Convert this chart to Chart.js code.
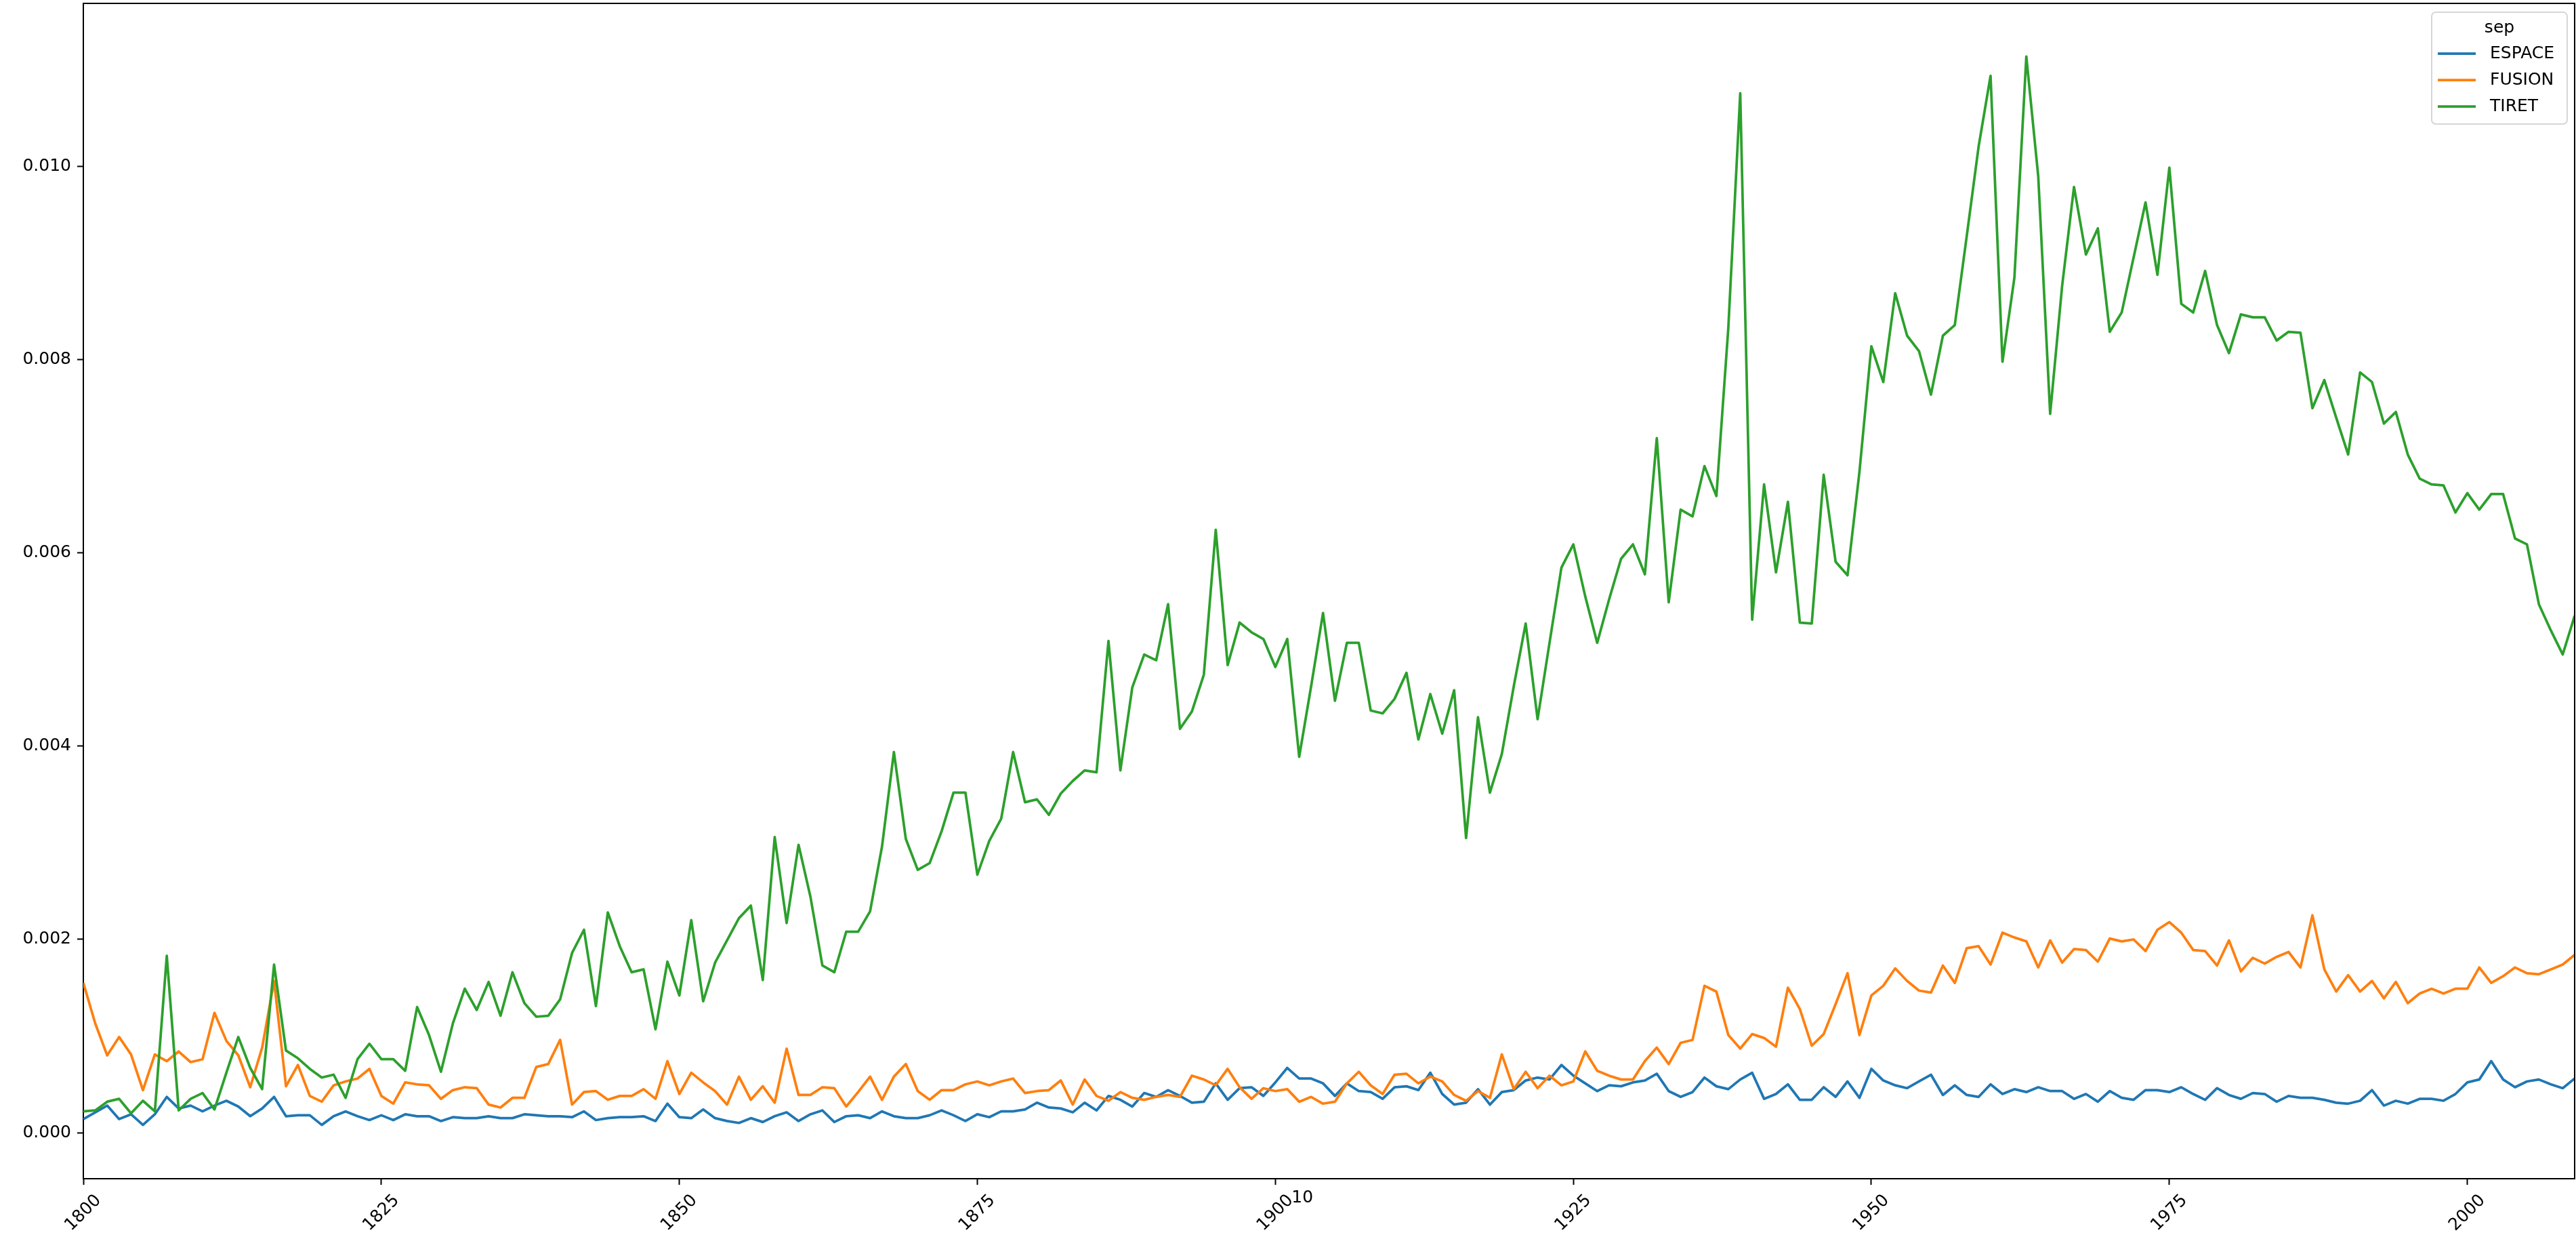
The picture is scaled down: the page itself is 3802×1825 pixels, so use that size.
<!DOCTYPE html>
<html><head><meta charset="utf-8">
<script src="https://cdn.jsdelivr.net/npm/chart.js@4/dist/chart.umd.min.js"></script>
<style>html,body{margin:0;padding:0;background:#fff;overflow:hidden}#wrap{width:3802px;height:1825px;position:relative}</style>
</head><body><div id="wrap"><canvas id="c" width="3802" height="1825"></canvas></div>
<script>
const firstYear = 1800;
const espace = [
0.00014,0.00021,0.00028,0.00014,0.00019,0.00008,0.00019,0.00037,0.00025,0.00028,
0.00022,0.00028,0.00033,0.00027,0.00017,0.00025,0.00037,0.00017,0.00018,0.00018,
0.00008,0.00017,0.00022,0.00017,0.00013,0.00018,0.00013,0.00019,0.00017,0.00017,
0.00012,0.00016,0.00015,0.00015,0.00017,0.00015,0.00015,0.00019,0.00018,0.00017,
0.00017,0.00016,0.00022,0.00013,0.00015,0.00016,0.00016,0.00017,0.00012,0.00030,
0.00016,0.00015,0.00024,0.00015,0.00012,0.00010,0.00015,0.00011,0.00017,0.00021,
0.00012,0.00019,0.00023,0.00011,0.00017,0.00018,0.00015,0.00022,0.00017,0.00015,
0.00015,0.00018,0.00023,0.00018,0.00012,0.00019,0.00016,0.00022,0.00022,0.00024,
0.00031,0.00026,0.00025,0.00021,0.00031,0.00023,0.00038,0.00034,0.00027,0.00041,
0.00037,0.00044,0.00038,0.00031,0.00032,0.00051,0.00034,0.00046,0.00047,0.00038,
0.00052,0.00067,0.00056,0.00056,0.00051,0.00038,0.00051,0.00043,0.00042,0.00035,
0.00047,0.00048,0.00044,0.00062,0.00040,0.00029,0.00031,0.00045,0.00029,0.00042,
0.00044,0.00054,0.00057,0.00055,0.00070,0.00059,0.00051,0.00043,0.00049,0.00048,
0.00052,0.00054,0.00061,0.00043,0.00037,0.00042,0.00057,0.00048,0.00045,0.00055,
0.00062,0.00035,0.00040,0.00050,0.00034,0.00034,0.00047,0.00037,0.00053,0.00036,
0.00066,0.00054,0.00049,0.00046,0.00053,0.00060,0.00039,0.00049,0.00039,0.00037,
0.00050,0.00040,0.00045,0.00042,0.00047,0.00043,0.00043,0.00035,0.00040,0.00032,
0.00043,0.00036,0.00034,0.00044,0.00044,0.00042,0.00047,0.00040,0.00034,0.00046,
0.00039,0.00035,0.00041,0.00040,0.00032,0.00038,0.00036,0.00036,0.00034,0.00031,
0.00030,0.00033,0.00044,0.00028,0.00033,0.00030,0.00035,0.00035,0.00033,0.00040,
0.00052,0.00055,0.00074,0.00055,0.00047,0.00053,0.00055,0.00050,0.00046,0.00056];
const fusion = [
0.00155,0.00113,0.00080,0.00099,0.00081,0.00044,0.00081,0.00074,0.00084,0.00073,
0.00076,0.00124,0.00095,0.00080,0.00047,0.00088,0.00157,0.00048,0.00070,0.00038,
0.00032,0.00049,0.00053,0.00056,0.00066,0.00038,0.00030,0.00052,0.00050,0.00049,
0.00035,0.00044,0.00047,0.00046,0.00029,0.00026,0.00036,0.00036,0.00068,0.00071,
0.00096,0.00029,0.00042,0.00043,0.00034,0.00038,0.00038,0.00045,0.00035,0.00074,
0.00040,0.00062,0.00052,0.00043,0.00029,0.00058,0.00034,0.00048,0.00031,0.00087,
0.00039,0.00039,0.00047,0.00046,0.00027,0.00042,0.00058,0.00034,0.00058,0.00071,
0.00043,0.00034,0.00044,0.00044,0.00050,0.00053,0.00049,0.00053,0.00056,0.00041,
0.00043,0.00044,0.00054,0.00029,0.00055,0.00038,0.00033,0.00042,0.00036,0.00034,
0.00037,0.00039,0.00037,0.00059,0.00055,0.00049,0.00066,0.00047,0.00035,0.00046,
0.00043,0.00045,0.00032,0.00037,0.00030,0.00032,0.00051,0.00063,0.00049,0.00040,
0.00060,0.00061,0.00051,0.00058,0.00053,0.00039,0.00033,0.00043,0.00036,0.00081,
0.00045,0.00063,0.00046,0.00059,0.00049,0.00053,0.00084,0.00064,0.00059,0.00055,
0.00055,0.00074,0.00088,0.00071,0.00093,0.00096,0.00152,0.00146,0.00101,0.00087,
0.00102,0.00098,0.00089,0.00150,0.00128,0.00090,0.00102,0.00133,0.00165,0.00101,
0.00142,0.00152,0.00170,0.00157,0.00147,0.00145,0.00173,0.00155,0.00191,0.00193,
0.00174,0.00207,0.00202,0.00198,0.00171,0.00199,0.00176,0.00190,0.00189,0.00177,
0.00201,0.00198,0.00200,0.00188,0.00210,0.00218,0.00207,0.00189,0.00188,0.00173,
0.00199,0.00167,0.00181,0.00175,0.00182,0.00187,0.00171,0.00225,0.00169,0.00146,
0.00163,0.00146,0.00157,0.00139,0.00156,0.00134,0.00144,0.00149,0.00144,0.00149,
0.00149,0.00171,0.00155,0.00162,0.00171,0.00165,0.00164,0.00169,0.00174,0.00184];
const tiret = [
0.00022,0.00023,0.00032,0.00035,0.00020,0.00033,0.00022,0.00183,0.00023,0.00035,
0.00041,0.00024,0.00062,0.00099,0.00067,0.00045,0.00174,0.00085,0.00077,0.00066,
0.00057,0.00060,0.00036,0.00076,0.00092,0.00076,0.00076,0.00064,0.00130,0.00101,
0.00063,0.00113,0.00149,0.00127,0.00156,0.00121,0.00166,0.00134,0.00120,0.00121,
0.00138,0.00186,0.00210,0.00131,0.00228,0.00193,0.00166,0.00169,0.00107,0.00177,
0.00142,0.00220,0.00136,0.00176,0.00199,0.00222,0.00235,0.00158,0.00306,0.00217,
0.00298,0.00244,0.00173,0.00166,0.00208,0.00208,0.00229,0.00296,0.00394,0.00304,
0.00272,0.00279,0.00312,0.00352,0.00352,0.00267,0.00302,0.00325,0.00394,0.00342,
0.00345,0.00329,0.00351,0.00364,0.00375,0.00373,0.00509,0.00375,0.00461,0.00495,
0.00489,0.00547,0.00418,0.00436,0.00474,0.00624,0.00484,0.00528,0.00518,0.00511,
0.00482,0.00511,0.00389,0.00462,0.00538,0.00447,0.00507,0.00507,0.00437,0.00434,
0.00449,0.00476,0.00407,0.00454,0.00413,0.00458,0.00305,0.00430,0.00352,0.00392,
0.00462,0.00527,0.00428,0.00507,0.00585,0.00609,0.00555,0.00507,0.00552,0.00594,
0.00609,0.00578,0.00719,0.00549,0.00645,0.00638,0.00690,0.00659,0.00833,0.01076,
0.00531,0.00671,0.00580,0.00653,0.00528,0.00527,0.00681,0.00591,0.00577,0.00684,
0.00814,0.00777,0.00869,0.00825,0.00809,0.00764,0.00825,0.00836,0.00928,0.01021,
0.01094,0.00798,0.00885,0.01114,0.00990,0.00744,0.00876,0.00979,0.00909,0.00936,
0.00829,0.00849,0.00906,0.00963,0.00888,0.00999,0.00858,0.00849,0.00892,0.00836,
0.00807,0.00847,0.00844,0.00844,0.00820,0.00829,0.00828,0.00750,0.00779,0.00740,
0.00702,0.00787,0.00777,0.00734,0.00746,0.00702,0.00677,0.00671,0.00670,0.00642,
0.00662,0.00645,0.00661,0.00661,0.00615,0.00609,0.00547,0.00520,0.00495,0.00535];
const seriesNames = ['ESPACE', 'FUSION', 'TIRET'];
const seriesColors = ['#1f77b4', '#ff7f0e', '#2ca02c'];
const xTicks = [1800, 1825, 1850, 1875, 1900, 1925, 1950, 1975, 2000];
const yTicks = [0, 0.002, 0.004, 0.006, 0.008, 0.010];
const legendTitle = 'sep';
const strayLabel = '10';

const years = espace.map((_, i) => firstYear + i);
const seriesValues = [espace, fusion, tiret];
const FONT = '25px "DejaVu Sans"';

const extras = {
  id: 'extras',
  afterDraw(chart) {
    const ctx = chart.ctx, a = chart.chartArea, xs = chart.scales.x;
    ctx.save();
    // top/right spines
    ctx.strokeStyle = '#000'; ctx.lineWidth = 2;
    ctx.beginPath(); ctx.moveTo(a.left, a.top); ctx.lineTo(a.right, a.top); ctx.lineTo(a.right, a.bottom); ctx.stroke();
    // rotated x tick labels (centered like matplotlib)
    ctx.font = FONT; ctx.fillStyle = '#000';
    ctx.textAlign = 'center'; ctx.textBaseline = 'middle';
    xTicks.forEach(v => {
      const label = String(v);
      const w = ctx.measureText(label).width, h = 29;
      const side = (w + h) * Math.SQRT1_2;
      const cx = xs.getPixelForValue(v), cy = a.bottom + 18 + side / 2;
      ctx.save(); ctx.translate(cx, cy); ctx.rotate(-Math.PI / 4); ctx.fillText(label, 0, 0); ctx.restore();
    });
    // stray "10" text near 1900
    ctx.textAlign = 'left'; ctx.textBaseline = 'alphabetic';
    ctx.fillText(strayLabel, xs.getPixelForValue(1900) + 24, a.bottom + 35);
    // legend
    const bx = a.right - 11 - 200, by = a.top + 13, bw = 200, bh = 165;
    ctx.beginPath();
    ctx.roundRect(bx, by, bw, bh, 6);
    ctx.fillStyle = 'rgba(255,255,255,0.8)'; ctx.fill();
    ctx.strokeStyle = 'rgba(204,204,204,0.8)'; ctx.lineWidth = 2; ctx.stroke();
    ctx.fillStyle = '#000'; ctx.textAlign = 'center'; ctx.textBaseline = 'alphabetic';
    ctx.fillText(legendTitle, bx + bw / 2, by + 30);
    ctx.textAlign = 'left'; ctx.textBaseline = 'middle';
    seriesNames.forEach((n, i) => {
      const yy = by + 61 + i * 39;
      ctx.strokeStyle = seriesColors[i]; ctx.lineWidth = 3.75; ctx.lineCap = 'butt';
      ctx.beginPath(); ctx.moveTo(bx + 9, yy); ctx.lineTo(bx + 65, yy); ctx.stroke();
      ctx.fillStyle = '#000';
      ctx.fillText(n, bx + 86, yy);
    });
    ctx.restore();
  }
};

new Chart(document.getElementById('c'), {
  type: 'line',
  data: {
    datasets: seriesNames.map((n, k) => ({
      label: n,
      data: years.map((yr, i) => ({ x: yr, y: seriesValues[k][i] })),
      borderColor: seriesColors[k],
      backgroundColor: seriesColors[k],
      borderWidth: 3.75,
      borderJoinStyle: 'round',
      pointRadius: 0,
      tension: 0,
      fill: false,
      order: 3 - k
    }))
  },
  options: {
    responsive: false,
    animation: false,
    devicePixelRatio: 1,
    layout: { padding: { top: 5, right: 2, left: 0, bottom: 0 } },
    plugins: { legend: { display: false }, tooltip: { enabled: false } },
    scales: {
      x: {
        type: 'linear', min: 1800, max: 2009,
        afterBuildTicks: s => { s.ticks = xTicks.map(v => ({ value: v })); },
        afterFit: s => { s.height = 86; s.paddingLeft = 0; s.paddingRight = 0; },
        grid: { drawOnChartArea: false, drawTicks: true, tickLength: 9, tickWidth: 2, color: '#000' },
        border: { display: true, color: '#000', width: 2 },
        ticks: { display: false }
      },
      y: {
        type: 'linear', min: -0.000477, max: 0.01169,
        afterBuildTicks: s => { s.ticks = yTicks.map(v => ({ value: v })); },
        afterFit: s => { s.width = 123; s.paddingTop = 0; s.paddingBottom = 0; },
        grid: { drawOnChartArea: false, drawTicks: true, tickLength: 9, tickWidth: 2, color: '#000' },
        border: { display: true, color: '#000', width: 2 },
        ticks: { font: { family: 'DejaVu Sans', size: 25 }, color: '#000', padding: 9, callback: v => Number(v).toFixed(3) }
      }
    }
  },
  plugins: [extras]
});
</script></body></html>
